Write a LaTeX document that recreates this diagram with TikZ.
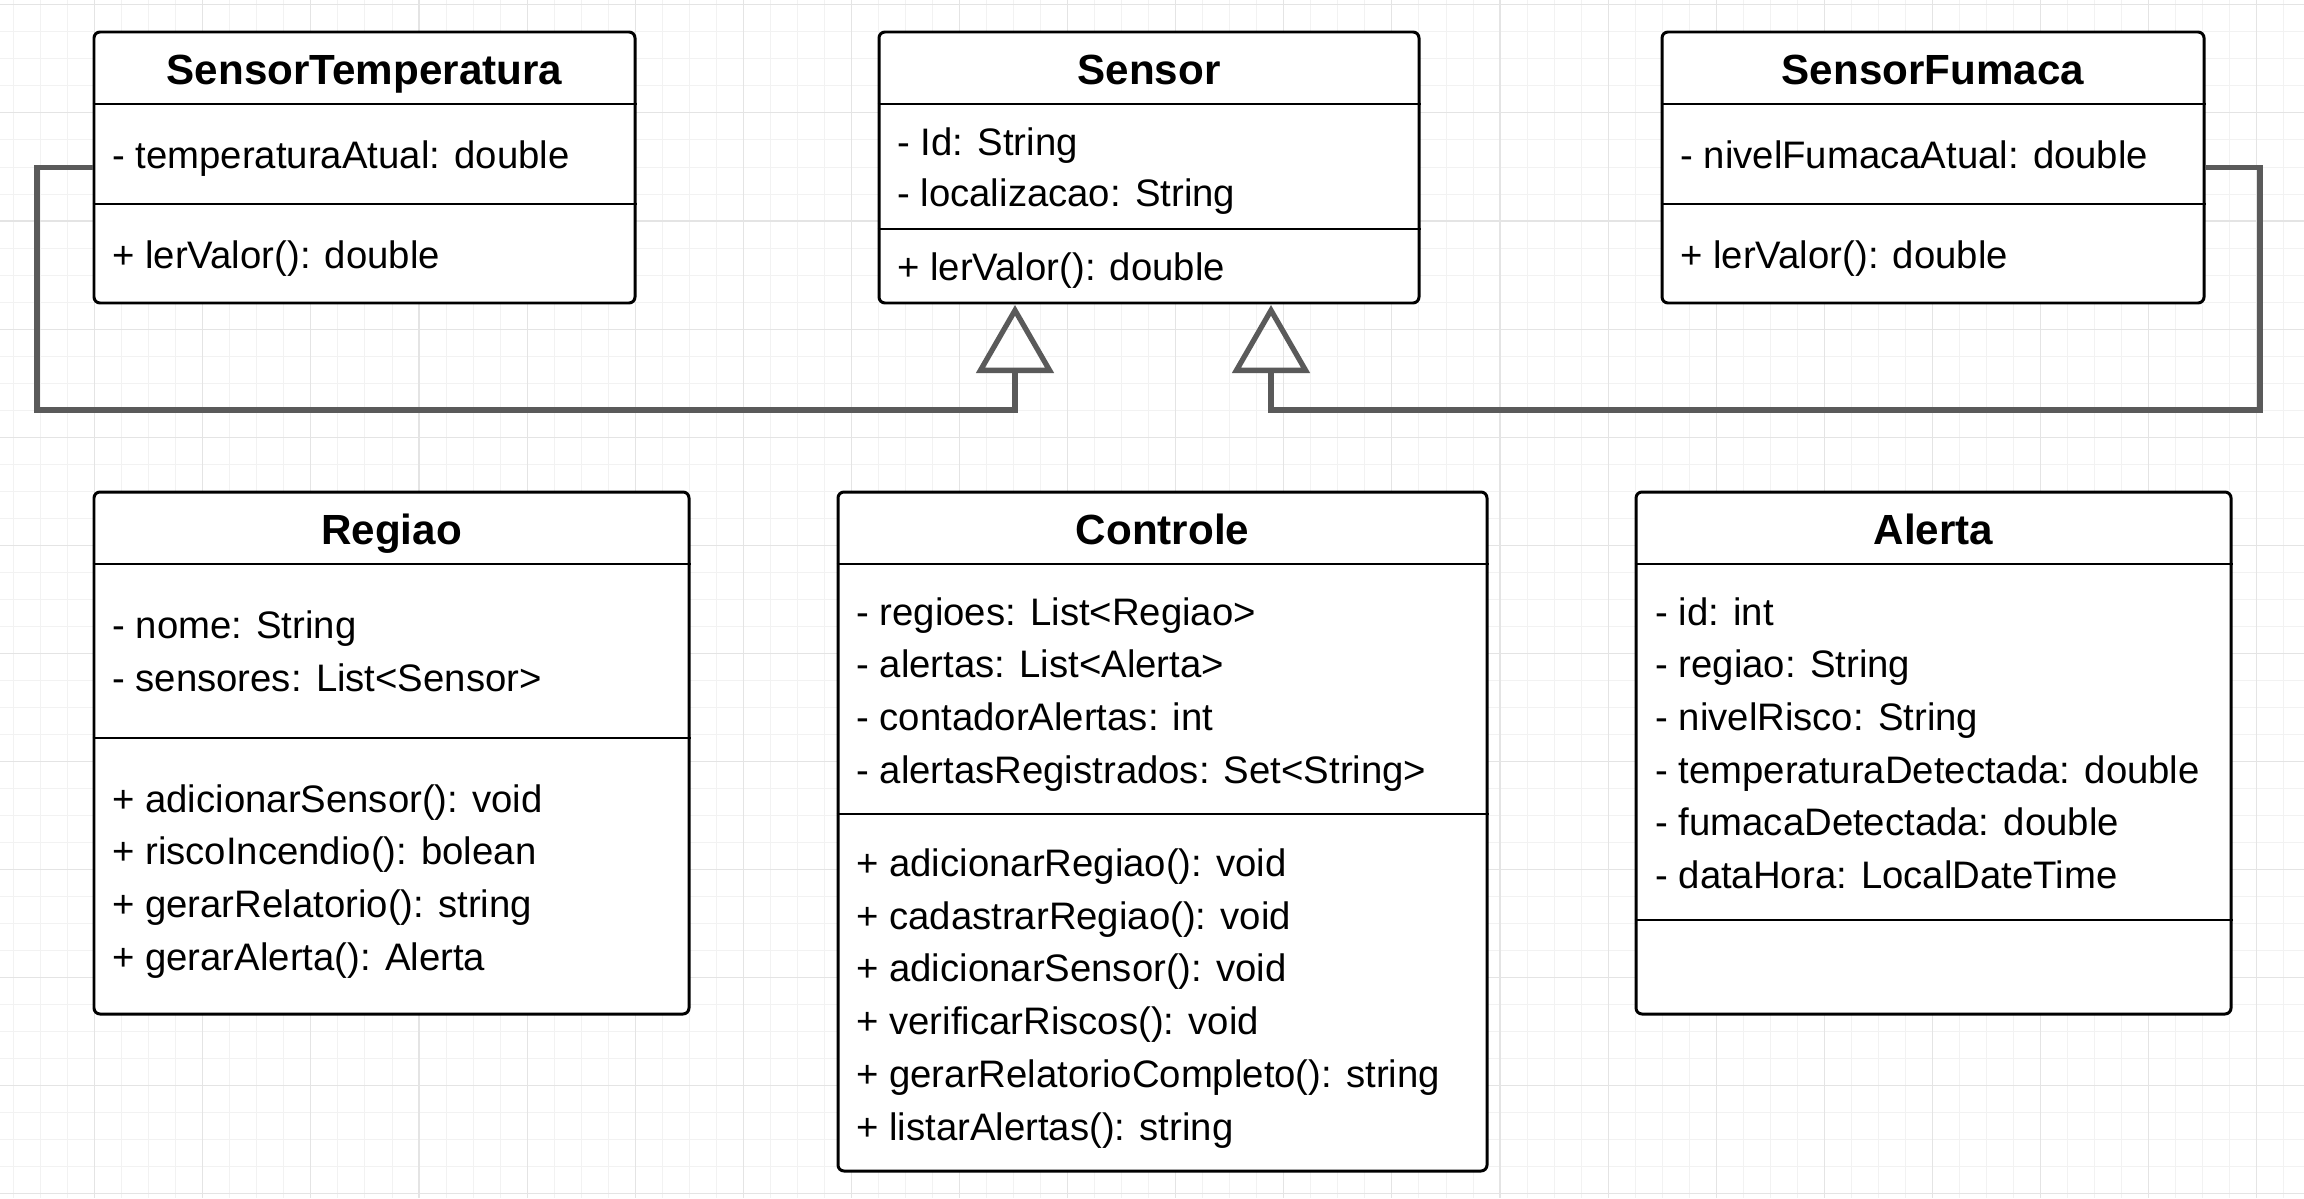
\documentclass[tikz,border=0pt]{standalone}
\usepackage{fontspec}
\setmainfont{Liberation Sans}
\usetikzlibrary{arrows.meta,fit}
\definecolor{linkgray}{HTML}{5A5A5A}
\definecolor{gridminor}{HTML}{F2F2F2}
\definecolor{gridmajor}{HTML}{E4E4E4}
\tikzset{
  classbox/.style={draw=black, line width=1.7pt, rounded corners=1.2mm, fill=white, inner sep=0pt},
  divider/.style={black, line width=1.5pt},
  classname/.style={anchor=base, inner sep=0pt, font=\fontsize{24}{29}\selectfont\bfseries},
  member/.style={anchor=base west, inner sep=0pt, font=\fontsize{21.8}{30}\selectfont},
  inherit/.style={draw=linkgray, line width=3pt, -{Triangle[open,length=13.6mm,width=15.4mm]}},
}

\begin{document}
\begin{tikzpicture}[x=0.2mm, y=-0.2mm]
	\useasboundingbox (0,0) rectangle (2304,1198);
	
	% background grid
	\foreach \k in {0,...,84} \draw[gridminor, line width=0.5pt] ({13.6+27.025*\k},0) -- ++(0,1198);
	\foreach \k in {0,...,44} \draw[gridminor, line width=0.5pt] (0,{4.8+27.025*\k}) -- ++(2304,0);
	\foreach \k in {0,...,20} \draw[gridmajor, line width=0.6pt] ({94.7+108.1*\k},0) -- ++(0,1198);
	\foreach \k in {0,...,11} \draw[gridmajor, line width=0.6pt] (0,{4.8+108.1*\k}) -- ++(2304,0);
	
	% classes
	\node[classbox, fit={(94,32) (635,303)}] (st) {};
	\node[classbox, fit={(879,32) (1419,303)}] (sensor) {};
	\node[classbox, fit={(1662,32) (2204,303)}] (sf) {};
	\node[classbox, fit={(94,492) (689,1014)}] (regiao) {};
	\node[classbox, fit={(838,492) (1487,1171)}] (controle) {};
	\node[classbox, fit={(1636,492) (2231,1014)}] (alerta) {};
	
	\draw[divider] (st.west |- 0,104) -- (st.east |- 0,104);
	\draw[divider] (st.west |- 0,204) -- (st.east |- 0,204);
	\draw[divider] (sensor.west |- 0,104) -- (sensor.east |- 0,104);
	\draw[divider] (sensor.west |- 0,229) -- (sensor.east |- 0,229);
	\draw[divider] (sf.west |- 0,104) -- (sf.east |- 0,104);
	\draw[divider] (sf.west |- 0,204) -- (sf.east |- 0,204);
	\draw[divider] (regiao.west |- 0,564) -- (regiao.east |- 0,564);
	\draw[divider] (regiao.west |- 0,738) -- (regiao.east |- 0,738);
	\draw[divider] (controle.west |- 0,564) -- (controle.east |- 0,564);
	\draw[divider] (controle.west |- 0,814) -- (controle.east |- 0,814);
	\draw[divider] (alerta.west |- 0,564) -- (alerta.east |- 0,564);
	\draw[divider] (alerta.west |- 0,920) -- (alerta.east |- 0,920);
	
	% SensorTemperatura
	\node[classname] (st-name) at (364.5,84) {SensorTemperatura};
	\node[member] (st-a1) at (112,168) {- temperaturaAtual: double};
	\node[member] (st-m1) at (112,268) {+ lerValor(): double};
	
	% Sensor
	\node[classname] (sensor-name) at (1149,84) {Sensor};
	\node[member] (sensor-a1) at (897,155) {- Id: String};
	\node[member] (sensor-a2) at (897,206.5) {- localizacao: String};
	\node[member] (sensor-m1) at (897,280) {+ lerValor(): double};
	
	% SensorFumaca
	\node[classname] (sf-name) at (1933,84) {SensorFumaca};
	\node[member] (sf-a1) at (1680,168) {- nivelFumacaAtual: double};
	\node[member] (sf-m1) at (1680,268) {+ lerValor(): double};
	
	% Regiao
	\node[classname] (regiao-name) at (391.5,544) {Regiao};
	\node[member] (regiao-a1) at (112,638.5) {- nome: String};
	\node[member] (regiao-a2) at (112,691.2) {- sensores: List<Sensor>};
	\node[member] (regiao-m1) at (112,812) {+ adicionarSensor(): void};
	\node[member] (regiao-m2) at (112,864.7) {+ riscoIncendio(): bolean};
	\node[member] (regiao-m3) at (112,917.4) {+ gerarRelatorio(): string};
	\node[member] (regiao-m4) at (112,970.1) {+ gerarAlerta(): Alerta};
	
	% Controle
	\node[classname] (controle-name) at (1162.5,544) {Controle};
	\node[member] (controle-a1) at (856,625) {- regioes: List<Regiao>};
	\node[member] (controle-a2) at (856,677.7) {- alertas: List<Alerta>};
	\node[member] (controle-a3) at (856,730.4) {- contadorAlertas: int};
	\node[member] (controle-a4) at (856,783.1) {- alertasRegistrados: Set<String>};
	\node[member] (controle-m1) at (856,876.5) {+ adicionarRegiao(): void};
	\node[member] (controle-m2) at (856,929.2) {+ cadastrarRegiao(): void};
	\node[member] (controle-m3) at (856,981.9) {+ adicionarSensor(): void};
	\node[member] (controle-m4) at (856,1034.6) {+ verificarRiscos(): void};
	\node[member] (controle-m5) at (856,1087.3) {+ gerarRelatorioCompleto(): string};
	\node[member] (controle-m6) at (856,1140) {+ listarAlertas(): string};
	
	% Alerta
	\node[classname] (alerta-name) at (1933.5,544) {Alerta};
	\node[member] (alerta-a1) at (1655,625) {- id: int};
	\node[member] (alerta-a2) at (1655,677.7) {- regiao: String};
	\node[member] (alerta-a3) at (1655,730.4) {- nivelRisco: String};
	\node[member] (alerta-a4) at (1655,783.1) {- temperaturaDetectada: double};
	\node[member] (alerta-a5) at (1655,835.8) {- fumacaDetectada: double};
	\node[member] (alerta-a6) at (1655,888.5) {- dataHora: LocalDateTime};
	
	% generalisation
	\coordinate (tipA) at (1015,305);
	\coordinate (tipB) at (1271,305);
	\coordinate (bendL) at (37,410);
	\coordinate (bendR) at (2260,410);
	\draw[inherit] (st.west) -| (bendL) -| (tipA);
	\draw[inherit] (sf.east) -| (bendR) -| (tipB);
\end{tikzpicture}
\end{document}
